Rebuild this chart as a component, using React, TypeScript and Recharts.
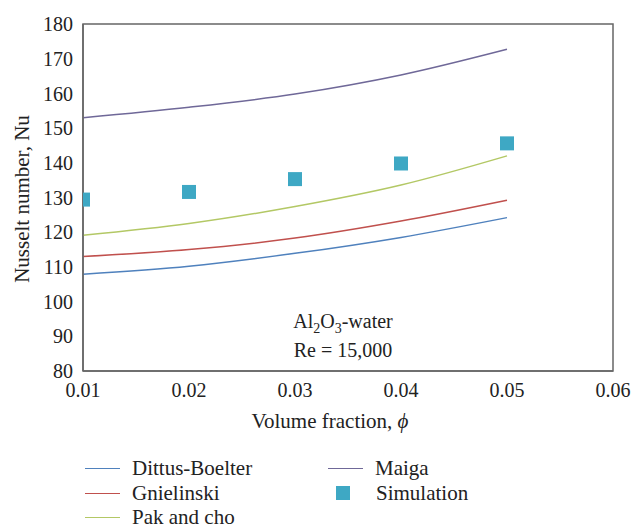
import React from 'react';
import {
  ComposedChart,
  Line,
  Scatter,
  XAxis,
  YAxis,
  ReferenceArea,
} from 'recharts';

const phi = [0.01, 0.02, 0.03, 0.04, 0.05];
const dittusBoelter = [107.9, 110.2, 113.9, 118.5, 124.2];
const gnielinski = [113.0, 115.0, 118.3, 123.2, 129.2];
const pakAndCho = [119.1, 122.5, 127.4, 133.6, 142.0];
const maiga = [153.0, 156.0, 159.8, 165.3, 172.7];
const simulation = [129.4, 131.6, 135.3, 139.8, 145.6];

const xTicks = [0.01, 0.02, 0.03, 0.04, 0.05, 0.06];
const yTicks = [80, 90, 100, 110, 120, 130, 140, 150, 160, 170, 180];

const COLORS = {
  dittus: '#4f81bd',
  gniel: '#c0504d',
  pak: '#b3c865',
  maiga: '#6f6898',
  sim: '#3ea8c4',
  axis: '#666666',
  text: '#222222',
};

const FONT = '"Liberation Serif", "Times New Roman", serif';

const data = phi.map((p, i) => ({
  phi: p,
  dittus: dittusBoelter[i],
  gniel: gnielinski[i],
  pak: pakAndCho[i],
  maiga: maiga[i],
  sim: simulation[i],
}));

// square marker for the simulation points
const SquareShape = (props: any) => {
  const { cx, cy } = props;
  if (cx == null || cy == null) return null;
  return <rect x={cx - 7} y={cy - 7} width={14} height={14} fill={COLORS.sim} />;
};

const legendLine = (color: string) => (
  <span
    style={{
      display: 'inline-block',
      width: 35,
      height: 0,
      borderTop: `1.5px solid ${color}`,
      marginRight: 12,
      verticalAlign: 'middle',
    }}
  />
);

const legendItem = (left: number, top: number, marker: React.ReactNode, label: string) => (
  <div
    key={label}
    style={{
      position: 'absolute',
      left,
      top,
      height: 24,
      display: 'flex',
      alignItems: 'center',
      fontFamily: FONT,
      fontSize: 21,
      lineHeight: '24px',
      color: COLORS.text,
      whiteSpace: 'nowrap',
    }}
  >
    {marker}
    {label}
  </div>
);

export default function App() {
  return (
    <div style={{ position: 'absolute', left: 0, top: 0, width: 642, height: 530, background: '#fff' }}>
      <ComposedChart
        width={642}
        height={530}
        data={data}
        margin={{ top: 24, right: 29, left: 23, bottom: 129 }}
      >
        <XAxis
          type="number"
          dataKey="phi"
          domain={[0.01, 0.06]}
          ticks={xTicks}
          tickFormatter={(v: number) => v.toFixed(2)}
          tickLine={false}
          tickMargin={6}
          height={30}
          axisLine={{ stroke: COLORS.axis, strokeWidth: 1.5 }}
          tick={{ fill: COLORS.text, fontSize: 20, fontFamily: FONT }}
          allowDataOverflow
        />
        <YAxis
          type="number"
          domain={[80, 180]}
          ticks={yTicks}
          tickLine={false}
          tickMargin={4}
          width={60}
          axisLine={{ stroke: COLORS.axis, strokeWidth: 1.5 }}
          tick={{ fill: COLORS.text, fontSize: 20, fontFamily: FONT }}
          allowDataOverflow
        />
        <ReferenceArea
          x1={0.01}
          x2={0.06}
          y1={80}
          y2={180}
          fill="none"
          stroke={COLORS.axis}
          strokeWidth={1.5}
          ifOverflow="visible"
        />
        <Line type="monotone" dataKey="dittus" stroke={COLORS.dittus} strokeWidth={1.5} dot={false} isAnimationActive={false} />
        <Line type="monotone" dataKey="gniel" stroke={COLORS.gniel} strokeWidth={1.5} dot={false} isAnimationActive={false} />
        <Line type="monotone" dataKey="pak" stroke={COLORS.pak} strokeWidth={1.5} dot={false} isAnimationActive={false} />
        <Line type="monotone" dataKey="maiga" stroke={COLORS.maiga} strokeWidth={1.5} dot={false} isAnimationActive={false} />
        <Scatter dataKey="sim" shape={<SquareShape />} isAnimationActive={false} />
      </ComposedChart>

      {/* axis titles and annotation */}
      <svg
        width={642}
        height={530}
        style={{ position: 'absolute', left: 0, top: 0, pointerEvents: 'none' }}
        fontFamily={FONT}
        fill={COLORS.text}
      >
        <text x={22} y={199} fontSize={21} textAnchor="middle" dominantBaseline="central" transform="rotate(-90 22 199)">
          Nusselt number, Nu
        </text>
        <text x={330} y={428} fontSize={21} textAnchor="middle">
          Volume fraction, <tspan fontStyle="italic">ϕ</tspan>
        </text>
        <text x={343} y={328} fontSize={20} textAnchor="middle">
          Al<tspan fontSize={14} dy={5}>2</tspan>
          <tspan dy={-5}>O</tspan>
          <tspan fontSize={14} dy={5}>3</tspan>
          <tspan dy={-5}>-water</tspan>
        </text>
        <text x={343} y={357} fontSize={20} textAnchor="middle">
          Re = 15,000
        </text>
      </svg>

      {/* legend */}
      {legendItem(85, 456, legendLine(COLORS.dittus), 'Dittus-Boelter')}
      {legendItem(85, 481, legendLine(COLORS.gniel), 'Gnielinski')}
      {legendItem(85, 505, legendLine(COLORS.pak), 'Pak and cho')}
      {legendItem(328, 456, legendLine(COLORS.maiga), 'Maiga')}
      {legendItem(
        336,
        481,
        <span
          style={{
            display: 'inline-block',
            width: 14,
            height: 14,
            background: COLORS.sim,
            marginRight: 26,
          }}
        />,
        'Simulation'
      )}
    </div>
  );
}
